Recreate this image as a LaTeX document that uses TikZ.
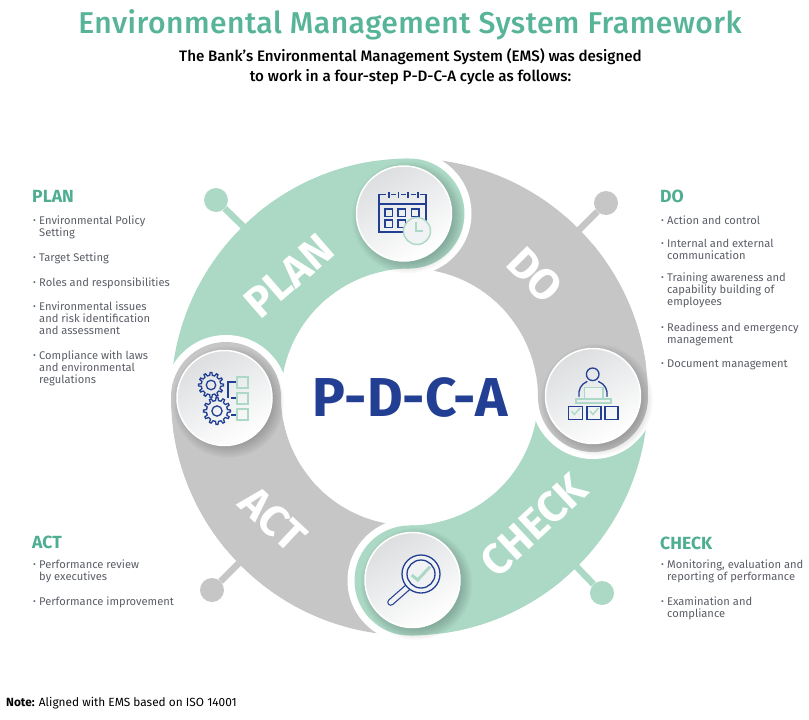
\documentclass[tikz,border=0pt]{standalone}
\usepackage{fontspec}
\setmainfont{Fira Sans}
\newfontfamily\titlefont[LetterSpace=1.5]{Fira Sans Medium}
\newfontfamily\medfont{Fira Sans Medium}
\definecolor{mint}{HTML}{ABD9C5}
\definecolor{ringgrey}{HTML}{C6C6C6}
\definecolor{navy}{HTML}{233F93}
\definecolor{titlegreen}{HTML}{57B498}
\definecolor{headgreen}{HTML}{4FAE92}
\definecolor{bodygrey}{HTML}{5A5E66}
\definecolor{discgrey}{HTML}{DCDEE0}
\definecolor{discpale}{HTML}{F1F2F3}
\tikzset{
  x=1pt,y=1pt,
  bandarc/.style={line width=110pt,line cap=butt},
  halo/.style={circle,fill=white,draw=none,minimum size=124pt,inner sep=0},
  disc/.style={circle,draw=white,line width=1.5pt,minimum size=95pt,inner sep=0,
    top color=discgrey,bottom color=white,shading angle=30},
  knob/.style={circle,fill=#1,draw=none,minimum size=24pt,inner sep=0},
  stem/.style={line width=6.5pt,draw=#1},
  ringlabel/.style={text=white,font=\bfseries\fontsize{43}{43}\selectfont,inner sep=0},
  headtext/.style={text=headgreen,font=\bfseries\fontsize{17.6}{18}\selectfont,anchor=base west,inner sep=0},
  bodytext/.style={text=bodygrey,font=\fontsize{11.15}{12}\selectfont,anchor=base west,inner sep=0},
  navyline/.style={draw=navy,line width=1.3pt,line join=miter},
  mintline/.style={draw=mint,line width=1.4pt},
}
\newcommand\bulletline[4]{\node[bodytext] (#1) at (#2,-#3) {\makebox[6pt][l]{\raisebox{1pt}{\fontsize{8.5}{8.5}\selectfont •}}\parbox[t]{150pt}{\raggedright #4}};}
\newcommand\softshadow[2]{\foreach \r in {44,45,...,56}{\fill[black,opacity=0.014] (#1+4,-#2-4) circle[radius=\r];}}
\newcommand\gearicon[3]{\begin{scope}[shift={(#1,-#2)}]
  \draw[navyline] ({-8}:{0.78*#3}) \foreach \i in {0,...,11}{ -- ({30*\i-8}:{0.78*#3}) -- ({30*\i-4}:#3) -- ({30*\i+4}:#3) -- ({30*\i+8}:{0.78*#3})} -- cycle;
  \draw[navyline] (0,0) circle[radius={0.38*#3}];
\end{scope}}
\begin{document}
\begin{tikzpicture}
\useasboundingbox (0,0) rectangle (809,-720);
% stems and knobs
\node[knob=mint] (kp) at (216,-200) {};
\node[knob=ringgrey] (kd) at (606,-203) {};
\node[knob=ringgrey] (ka) at (212,-590) {};
\node[knob=mint] (kc) at (602,-593) {};
\coordinate (sp) at (250,-233);
\coordinate (sd) at (572,-237);
\coordinate (sa) at (246,-556);
\coordinate (sc) at (570,-560);
\draw[stem=mint] (kp) -- (sp);
\draw[stem=ringgrey] (kd) -- (sd);
\draw[stem=ringgrey] (ka) -- (sa);
\draw[stem=mint] (kc) -- (sc);
% ring
\def\cx{409.5}\def\cy{-397}\def\rr{183.5}
\draw[bandarc,draw=mint] (\cx-\rr,\cy) arc[start angle=180,end angle=90,radius=\rr];
\draw[bandarc,draw=ringgrey] (\cx,\cy+\rr) arc[start angle=90,end angle=0,radius=\rr];
\draw[bandarc,draw=mint] (\cx+\rr,\cy) arc[start angle=0,end angle=-90,radius=\rr];
\draw[bandarc,draw=ringgrey] (\cx,\cy-\rr) arc[start angle=-90,end angle=-180,radius=\rr];
% halos and caps
\node[halo] (hp) at (\cx,\cy+\rr) {};
\node[halo] (hd) at (\cx+\rr,\cy) {};
\node[halo] (hc) at (\cx,\cy-\rr) {};
\node[halo] (ha) at (\cx-\rr,\cy) {};
\draw[bandarc,draw=mint] ({\cx+\rr*cos(130)},{\cy+\rr*sin(130)}) arc[start angle=130,end angle=90,radius=\rr];
\draw[bandarc,draw=ringgrey] ({\cx+\rr*cos(40)},{\cy+\rr*sin(40)}) arc[start angle=40,end angle=0,radius=\rr];
\draw[bandarc,draw=mint] ({\cx+\rr*cos(-50)},{\cy+\rr*sin(-50)}) arc[start angle=-50,end angle=-90,radius=\rr];
\draw[bandarc,draw=ringgrey] ({\cx+\rr*cos(-140)},{\cy+\rr*sin(-140)}) arc[start angle=-140,end angle=-180,radius=\rr];
\fill[mint] (\cx,\cy+\rr) circle[radius=55];
\fill[ringgrey] (\cx+\rr,\cy) circle[radius=55];
\fill[mint] (\cx,\cy-\rr) circle[radius=55];
\fill[ringgrey] (\cx-\rr,\cy) circle[radius=55];
% discs
\softshadow{404}{213.5}
\softshadow{593}{396}
\softshadow{412.5}{580}
\softshadow{224.5}{398}
\node[disc] (dp) at (404,-213.5) {};
\node[disc] (dd) at (593,-396) {};
\node[disc] (dc) at (412.5,-580) {};
\node[disc] (da) at (224.5,-398) {};
% calendar
\draw[navyline] (379,-198) -- (379,-232) -- (426,-232) -- (426,-198);
\draw[navyline] (379,-204) -- (426,-204);
\draw[navyline] (379,-194.5) -- (386,-194.5) (391,-194.5) -- (396,-194.5) (401,-194.5) -- (406,-194.5) (410.5,-194.5) -- (415.5,-194.5) (420,-194.5) -- (426,-194.5);
\draw[navyline] (379,-194) -- (379,-199) (426,-194) -- (426,-199);
\foreach \x in {389,398.5,408,418}{\draw[navyline] (\x,-192) -- (\x,-198);}
\foreach \x in {385,398,411.5}{\draw[navyline] (\x,-209) rectangle ++(7.5,-7.5);}
\foreach \x in {385,398}{\draw[navyline] (\x,-220) rectangle ++(7.5,-7.5);}
\draw[mintline,fill=discpale] (417,-231) circle[radius=13.5];
\draw[mintline] (416,-222) -- (416,-231) -- (423,-231);
% gears
\gearicon{211}{385}{12.5}
\gearicon{217}{411}{13.5}
\draw[navyline] (237,-382) -- (228,-382) -- (228,-398);
\draw[navyline] (231,-398) -- (237,-398);
\draw[navyline] (231,-415) -- (237,-415);
\foreach \y in {377,393,409}{\draw[mintline] (237,-\y) rectangle ++(11,-11);}
% person
\draw[navyline] (592.7,-374.3) circle[radius=6.3];
\draw[navyline,line cap=round] (579,-396.5) .. controls (578,-390) and (581,-384) .. (587,-381.5);
\draw[navyline,line cap=round] (607,-396.5) .. controls (608,-390) and (605,-384) .. (598.5,-381.5);
\draw[mintline,fill=discpale] (584.5,-387.5) rectangle (603,-399);
\draw[mintline] (576,-399) rectangle (611,-403);
\draw[navyline] (568.5,-406.5) rectangle ++(14,-13);
\draw[navyline] (587,-406.5) rectangle ++(14,-13);
\draw[navyline] (605,-406.5) rectangle ++(13,-13);
\draw[mintline] (571.5,-411) -- (574.5,-414.5) -- (580,-408);
\draw[mintline] (590,-411) -- (593,-414.5) -- (598.5,-408);
% magnifier
\draw[draw=navy,line width=7pt,line cap=round] (407.3,-587.7) -- (390.7,-602.3);
\draw[draw=discpale,line width=4.6pt,line cap=round] (407.3,-587.7) -- (390.7,-602.3);
\draw[navyline,fill=discpale] (421,-574) circle[radius=19];
\draw[navyline] (421,-574) circle[radius=14];
\draw[draw=mint,line width=3pt] (411.7,-575) -- (417.7,-580) -- (430,-566.7);
% ring labels
\node[ringlabel,rotate=41] (lp) at (289,-276) {PLAN};
\node[ringlabel,rotate=-45] (ld) at (535,-275) {DO};
\node[ringlabel,rotate=43] (lc) at (534,-525) {CHECK};
\node[ringlabel,rotate=-43] (la) at (273,-519) {ACT};
\node[text=navy,font=\bfseries\fontsize{54.8}{55}\selectfont,anchor=base,inner sep=0] (pdca) at (410,-416.5) {P-D-C-A};
% title
\node[text=titlegreen,font=\titlefont\fontsize{30.1}{31}\selectfont,anchor=base,inner sep=0] (title) at (410,-33) {Environmental Management System Framework};
\node[text=black,font=\medfont\fontsize{15.15}{16}\selectfont,anchor=base,inner sep=0] (sub1) at (410.5,-61) {The Bank’s Environmental Management System (EMS) was designed};
\node[text=black,font=\medfont\fontsize{15.15}{16}\selectfont,anchor=base,inner sep=0] (sub2) at (410.5,-81) {to work in a four-step P-D-C-A cycle as follows:};
% PLAN
\node[headtext] (hplan) at (32,-202) {PLAN};
\bulletline{p1}{33}{224}{Environmental Policy\\Setting}
\bulletline{p2}{33}{261}{Target Setting}
\bulletline{p3}{33}{286}{Roles and responsibilities}
\bulletline{p4}{33}{310}{Environmental issues\\and risk identification\\and assessment}
\bulletline{p5}{33}{359}{Compliance with laws\\and environmental\\regulations}
% DO
\node[headtext] (hdo) at (660,-202) {DO};
\bulletline{d1}{661}{224}{Action and control}
\bulletline{d2}{661}{247}{Internal and external\\communication}
\bulletline{d3}{661}{281}{Training awareness and\\capability building of\\employees}
\bulletline{d4}{661}{331}{Readiness and emergency\\management}
\bulletline{d5}{661}{367}{Document management}
% ACT
\node[headtext] (hact) at (32,-548) {ACT};
\bulletline{a1}{33}{568}{Performance review\\by executives}
\bulletline{a2}{33}{605}{Performance improvement}
% CHECK
\node[headtext] (hcheck) at (660,-549) {CHECK};
\bulletline{c1}{661}{568}{Monitoring, evaluation and\\reporting of performance}
\bulletline{c2}{661}{605}{Examination and\\compliance}
% note
\node[text=black,font=\fontsize{11.85}{12}\selectfont,anchor=base west,inner sep=0] (note) at (6,-706) {{\bfseries Note:} Aligned with EMS based on ISO 14001};
\end{tikzpicture}
\end{document}
